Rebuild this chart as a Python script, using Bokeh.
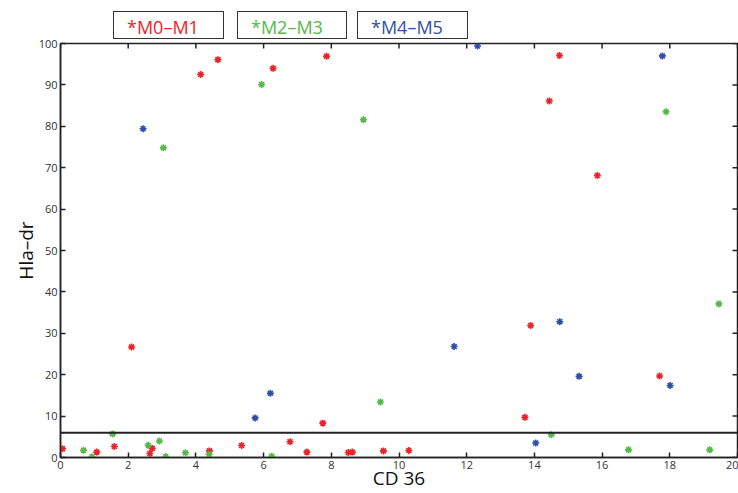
import math
from bokeh.plotting import figure
from bokeh.models import (Range1d, LinearAxis, FixedTicker, Span, Div,
                          ColumnDataSource)
from bokeh.layouts import column
from bokeh.embed import file_html
from bokeh.resources import INLINE

# ---------------- data ----------------
m01_x = [0.06, 1.07, 1.59, 2.10, 2.64, 2.71, 4.14, 4.40, 4.65, 5.35, 6.28, 6.78, 7.28,
         7.75, 7.86, 8.50, 8.62, 9.54, 10.29, 13.72, 13.89, 14.44, 14.74, 15.86, 17.70]
m01_y = [2.1, 1.3, 2.65, 26.7, 0.96, 2.2, 92.5, 1.6, 96.1, 2.9, 94.0, 3.8, 1.3,
         8.3, 96.9, 1.2, 1.3, 1.6, 1.7, 9.7, 31.9, 86.1, 97.1, 68.1, 19.7]

m23_x = [0.68, 0.93, 1.54, 2.59, 2.92, 3.04, 3.11, 3.69, 4.39, 5.94, 6.24, 8.95,
         9.45, 14.50, 16.78, 17.89, 19.18, 19.45]
m23_y = [1.76, 0.17, 5.7, 2.97, 4.0, 74.8, 0.24, 1.13, 0.8, 90.1, 0.3, 81.6,
         13.4, 5.5, 1.85, 83.5, 1.85, 37.1]

m45_x = [2.44, 5.75, 6.20, 11.63, 12.32, 14.04, 14.75, 15.32, 17.78, 18.01]
m45_y = [79.4, 9.56, 15.5, 26.8, 99.4, 3.5, 32.8, 19.6, 97.0, 17.4]

series_names = ["*M0\u2013M1", "*M2\u2013M3", "*M4\u2013M5"]
series_colors = ["#ec2227", "#55b947", "#2f4fa3"]
THRESHOLD = 6
x_label = "CD 36"
y_label = "Hla\u2013dr"
x_ticks = [0, 2, 4, 6, 8, 10, 12, 14, 16, 18, 20]
y_ticks = [0, 10, 20, 30, 40, 50, 60, 70, 80, 90, 100]
X_MIN, X_MAX = 0, 20
Y_MIN, Y_MAX = 0, 100

FONT = "Open Sans"
AX_COLOR = "#222222"

# ---------------- boxed series captions (top strip) ----------------
box_left = [113, 237, 357]
box_width = [111, 110, 111]
boxes = []
for name, c, bl, bw in zip(series_names, series_colors, box_left, box_width):
    boxes.append(
        f'<div style="position:absolute;left:{bl}px;top:11px;width:{bw}px;height:28px;'
        f'box-sizing:border-box;border:1px solid #333;background:white;'
        f'padding:4px 0 0 13px;line-height:22px;white-space:nowrap;'
        f'font-family:\'{FONT}\';font-size:18px;color:{c};">{name}</div>')
caption = Div(text='<div style="position:relative;width:738px;height:30px;overflow:visible;">'
                   + "".join(boxes) + '</div>',
              width=738, height=30, margin=(0, 0, 0, 0),
              styles={"overflow": "visible", "z-index": "5"})

# ---------------- the scatter plot ----------------
p = figure(width=738, height=463, output_backend="svg", toolbar_location=None,
           x_range=Range1d(X_MIN, X_MAX), y_range=Range1d(Y_MIN, Y_MAX),
           min_border_left=60, min_border_right=1, min_border_top=13,
           min_border_bottom=35, x_axis_location=None, y_axis_location=None,
           margin=(0, 0, 0, 0))
p.grid.visible = False
p.outline_line_color = AX_COLOR
p.outline_line_width = 1.5
p.background_fill_color = "white"
p.border_fill_color = None


def style_axis(ax):
    ax.axis_line_color = AX_COLOR
    ax.axis_line_width = 1.5
    ax.major_tick_line_color = AX_COLOR
    ax.major_tick_line_width = 1.5
    ax.major_tick_in = 5
    ax.major_tick_out = 0
    ax.minor_tick_line_color = None
    ax.major_label_text_font = FONT
    ax.major_label_text_color = "#333333"
    ax.major_label_text_font_size = "11px"
    ax.major_label_standoff = 3
    ax.axis_label_text_font = FONT
    ax.axis_label_text_font_size = "19px"
    ax.axis_label_text_font_style = "normal"
    ax.axis_label_text_color = "#111111"


bottom = LinearAxis(ticker=FixedTicker(ticks=x_ticks), axis_label=x_label)
style_axis(bottom)
bottom.axis_label_standoff = -7
p.add_layout(bottom, "below")

left = LinearAxis(ticker=FixedTicker(ticks=y_ticks), axis_label=y_label)
style_axis(left)
left.axis_label_standoff = -3
p.add_layout(left, "left")

# inward ticks on the top and right edges of the box (half of each dash is clipped)
p.scatter(x=x_ticks, y=[Y_MAX] * len(x_ticks), marker="dash", angle=math.pi / 2,
          size=10, line_color=AX_COLOR, line_width=1.5)
p.scatter(x=[X_MAX] * len(y_ticks), y=y_ticks, marker="dash", size=10,
          line_color=AX_COLOR, line_width=1.5)

# threshold line
p.add_layout(Span(location=THRESHOLD, dimension="width", line_color=AX_COLOR,
                  line_width=2))

# data
for xs, ys, c in [(m01_x, m01_y, series_colors[0]),
                  (m23_x, m23_y, series_colors[1]),
                  (m45_x, m45_y, series_colors[2])]:
    src = ColumnDataSource(dict(x=xs, y=ys))
    p.scatter("x", "y", source=src, marker="asterisk", size=7,
              line_color=c, line_width=1.6)

layout = column(caption, p, spacing=0, margin=(0, 0, 0, 0))
open("out.html", "w").write(file_html(layout, INLINE))
